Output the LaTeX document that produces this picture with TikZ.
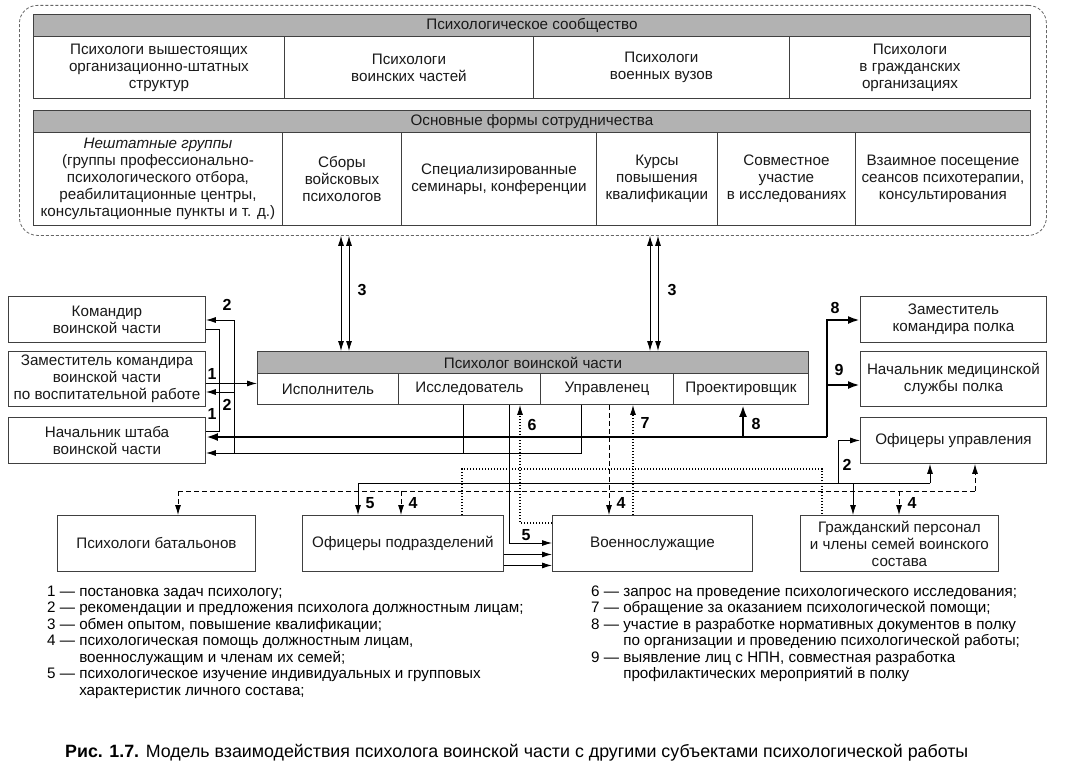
\documentclass[tikz,border=0pt]{standalone}
\usepackage{fontspec}
\setmainfont{Liberation Sans}
\usepackage{graphicx}
\usetikzlibrary{arrows.meta}
\newcommand{\bxf}{\fontsize{15.2}{17}\selectfont}
\newcommand{\lgf}{\fontsize{15.2}{16.5}\selectfont}
\newcommand{\lbf}{\fontsize{16}{16}\selectfont\bfseries}
\begin{document}
\begin{tikzpicture}[x=1pt,y=-1pt,
  box/.style={draw=black!75, line width=0.9pt, inner sep=0pt, align=center, font=\bxf, text=black!90, anchor=north west},
  band/.style={box, fill=black!30},
  conn/.style={draw=black, line width=0.9pt},
  arr/.style={conn, -{Latex[length=10pt,width=6pt]}},
  arrtwo/.style={conn, {Latex[length=10pt,width=6pt]}-{Latex[length=10pt,width=6pt]}},
  tconn/.style={draw=black, line width=2.6pt},
  tarr/.style={tconn, -{Latex[length=12pt,width=8pt]}},
  dconn/.style={conn, dash pattern=on 5pt off 3pt},
  darr/.style={arr, dash pattern=on 5pt off 3pt},
  pconn/.style={draw=black, line width=1.1pt, dash pattern=on 1.4pt off 1.6pt},
  parr/.style={pconn, -{Latex[length=10pt,width=6pt]}},
  lbl/.style={font=\lbf, inner sep=0pt},
]
\useasboundingbox (0,0) rectangle (1068,776);
\fill[white] (0,0) rectangle (1068,776);

% ---------- community block ----------
\node[draw=black!60, line width=0.8pt, dash pattern=on 3pt off 2pt, rounded corners=18pt,
      minimum width=1027pt, minimum height=230pt, anchor=north west, inner sep=0pt] (comm) at (19,5) {};
\node[band, minimum width=997pt, minimum height=22pt] (h1) at (33,14) {Психологическое сообщество};
\node[box, minimum width=251pt, minimum height=62pt] (c11) at (33,36) {Психологи вышестоящих\\организационно-штатных\\структур};
\node[box, minimum width=249pt, minimum height=62pt] (c12) at (284,36) {Психологи\\воинских частей};
\node[box, minimum width=256pt, minimum height=62pt] (c13) at (533,36) {Психологи\\военных вузов};
\node[box, minimum width=241pt, minimum height=62pt] (c14) at (789,36) {Психологи\\в гражданских\\организациях};

\node[band, minimum width=997pt, minimum height=22pt] (h2) at (33,110) {Основные формы сотрудничества};
\node[box, minimum width=249pt, minimum height=93pt] (c21) at (33,132) {{\itshape Нештатные группы}\\(группы профессионально-\\психологического отбора,\\реабилитационные центры,\\консультационные пункты и т. д.)};
\node[box, minimum width=119pt, minimum height=93pt] (c22) at (282,132) {Сборы\\войсковых\\психологов};
\node[box, minimum width=195pt, minimum height=93pt] (c23) at (401,132) {Специализированные\\семинары, конференции};
\node[box, minimum width=121pt, minimum height=93pt] (c24) at (596,132) {Курсы\\повышения\\квалификации};
\node[box, minimum width=138pt, minimum height=93pt] (c25) at (717,132) {Совместное\\участие\\в исследованиях};
\node[box, minimum width=175pt, minimum height=93pt] (c26) at (855,132) {Взаимное посещение\\сеансов психотерапии,\\консультирования};

% ---------- psychologist ----------
\node[band, minimum width=551pt, minimum height=22pt] (psyh) at (257,351) {Психолог воинской части};
\node[box, minimum width=141pt, minimum height=31pt] (p1) at (257,373) {Исполнитель};
\node[box, minimum width=142pt, minimum height=31pt] (p2) at (398,373) {Исследователь};
\node[box, minimum width=133pt, minimum height=31pt] (p3) at (540,373) {Управленец};
\node[box, minimum width=135pt, minimum height=31pt] (p4) at (673,373) {Проектировщик};

% ---------- left boxes ----------
\node[box, minimum width=197pt, minimum height=46pt] (kom) at (8,296) {Командир\\воинской части};
\node[box, minimum width=197pt, minimum height=55pt] (zam) at (8,351) {Заместитель командира\\воинской части\\по воспитательной работе};
\node[box, minimum width=197pt, minimum height=46pt] (nsh) at (8,417) {Начальник штаба\\воинской части};

% ---------- right boxes ----------
\node[box, minimum width=186pt, minimum height=46pt] (zkp) at (860,296) {Заместитель\\командира полка};
\node[box, minimum width=186pt, minimum height=55pt] (nms) at (860,351) {Начальник медицинской\\службы полка};
\node[box, minimum width=186pt, minimum height=46pt] (ofu) at (860,417) {Офицеры управления};

% ---------- bottom boxes ----------
\node[box, minimum width=198pt, minimum height=56pt] (pb) at (57,515) {Психологи батальонов};
\node[box, minimum width=201pt, minimum height=56pt] (ofp) at (302,515) {Офицеры подразделений};
\node[box, minimum width=200pt, minimum height=56pt] (vs) at (552,515) {Военнослужащие};
\node[box, minimum width=198pt, minimum height=56pt] (gp) at (800,515) {Гражданский персонал\\и члены семей воинского\\состава};

% ---------- 3 ----------
\coordinate (x3a) at (341,0); \coordinate (x3b) at (349,0);
\coordinate (x3c) at (650,0); \coordinate (x3d) at (658,0);
\draw[arrtwo] (comm.south -| x3a) -- (psyh.north -| x3a);
\draw[arrtwo] (comm.south -| x3b) -- (psyh.north -| x3b);
\draw[arrtwo] (comm.south -| x3c) -- (psyh.north -| x3c);
\draw[arrtwo] (comm.south -| x3d) -- (psyh.north -| x3d);

% ---------- 1 ----------
\coordinate (a1) at ([yshift=5.5pt]p1.west);
\coordinate (j1) at (219,383);
\draw[conn] ([yshift=-10pt]kom.east) -| (j1);
\draw[conn] ([yshift=9pt]nsh.east) -| (j1);
\draw[arr] (zam.east |- a1) -- (a1);

% ---------- 2 (left) ----------
\coordinate (j2a) at (234,320); \coordinate (j2b) at (234,392); \coordinate (j2c) at (234,453);
\draw[arr] (j2a) -- (kom.east |- j2a);
\draw[arr] (j2b) -- (zam.east |- j2b);
\draw[conn] (j2a) -- (j2c);
\coordinate (k1) at (463,453); \coordinate (k2) at (581,453);
\draw[arr] (p3.south -| k2) -- (k2) -- (nsh.east |- k2);
\draw[conn] (p2.south -| k1) -- (k1);

% ---------- 8, 9 thick ----------
\coordinate (t1) at (827,437); \coordinate (t2) at (827,320);
\coordinate (t3) at (827,385); \coordinate (t8) at (743,437);
\draw[tarr] (t1) -- (nsh.east |- t1);
\draw[tarr] (t1) -- (t2) -- (zkp.west |- t2);
\draw[tarr] (t3) -- (nms.west |- t3);
\draw[tarr] (t8) -- (p4.south -| t8);

% ---------- thin solid (5, 2 right) ----------
\coordinate (s1) at (358,483); \coordinate (s2) at (930,483); \coordinate (s3) at (853,483);
\coordinate (r2) at (838,483);
\draw[conn] (s1) -- (s2);
\draw[arr] (s1) -- (ofp.north -| s1);
\draw[arr] (s2) -- (ofu.south -| s2);
\draw[arr] (s3) -- (gp.north -| s3);
\draw[arr] (r2) |- (ofu.west);
\coordinate (v5) at (509,543);
\draw[arr] (p2.south -| v5) -- (v5) -- (vs.west |- v5);
\draw[arr] ([yshift=-11pt]ofp.east) -- ([yshift=-11pt]vs.west);
\draw[arr] ([yshift=-22pt]ofp.east) -- ([yshift=-22pt]vs.west);

% ---------- dashed (4) ----------
\coordinate (d1) at (178,491); \coordinate (d2) at (975,491);
\coordinate (d3) at (401,491); \coordinate (d4) at (899,491); \coordinate (d5) at (609,491);
\draw[dconn] (d1) -- (d2);
\draw[darr] (d1) -- (pb.north -| d1);
\draw[darr] (d3) -- (ofp.north -| d3);
\draw[darr] (d4) -- (gp.north -| d4);
\draw[darr] (d2) -- (ofu.south -| d2);
\draw[darr] (p3.south -| d5) -- (vs.north -| d5);

% ---------- dotted (6, 7) ----------
\coordinate (q1) at (462,469); \coordinate (q2) at (822,469);
\draw[pconn] (ofp.north -| q1) -- (q1) -- (q2) -- (gp.north -| q2);
\coordinate (q6) at (520,523);
\draw[parr] (vs.west |- q6) -- (q6) -- (p2.south -| q6);
\coordinate (q7) at (633,480);
\draw[parr] (vs.north -| q7) -- (p3.south -| q7);

% ---------- labels ----------
\node[lbl] (n2a) at (227,305) {2};
\node[lbl] (n1a) at (212,374) {1};
\node[lbl] (n2b) at (227,405) {2};
\node[lbl] (n1b) at (212,414) {1};
\node[lbl] (n3a) at (362,290) {3};
\node[lbl] (n3b) at (672,290) {3};
\node[lbl] (n8a) at (835,308) {8};
\node[lbl] (n9) at (839,370) {9};
\node[lbl] (n8b) at (756,424) {8};
\node[lbl] (n2c) at (847,465) {2};
\node[lbl] (n6) at (532,425) {6};
\node[lbl] (n7) at (645,423) {7};
\node[lbl] (n5a) at (370,503) {5};
\node[lbl] (n4a) at (413,503) {4};
\node[lbl] (n5b) at (526,535) {5};
\node[lbl] (n4b) at (621,503) {4};
\node[lbl] (n4c) at (912,503) {4};

% ---------- legend ----------
\node[anchor=base west, inner sep=0pt, font=\lgf] (legl) at (47,596) {\begin{tabular}[t]{@{}l@{ }l@{}}
1 — & постановка задач психологу;\\
2 — & рекомендации и предложения психолога должностным лицам;\\
3 — & обмен опытом, повышение квалификации;\\
4 — & психологическая помощь должностным лицам,\\
    & военнослужащим и членам их семей;\\
5 — & психологическое изучение индивидуальных и групповых\\
    & характеристик личного состава;
\end{tabular}};
\node[anchor=base west, inner sep=0pt, font=\lgf] (legr) at (591,596) {\begin{tabular}[t]{@{}l@{ }l@{}}
6 — & запрос на проведение психологического исследования;\\
7 — & обращение за оказанием психологической помощи;\\
8 — & участие в разработке нормативных документов в полку\\
    & по организации и проведению психологической работы;\\
9 — & выявление лиц с НПН, совместная разработка\\
    & профилактических мероприятий в полку
\end{tabular}};

% ---------- caption ----------
\node[anchor=base west, inner sep=0pt] (cap) at (65,757) {\resizebox{903pt}{!}{\fontsize{17}{17}\selectfont\textbf{Рис. 1.7.} Модель взаимодействия психолога воинской части с другими субъектами психологической работы}};
\end{tikzpicture}
\end{document}
